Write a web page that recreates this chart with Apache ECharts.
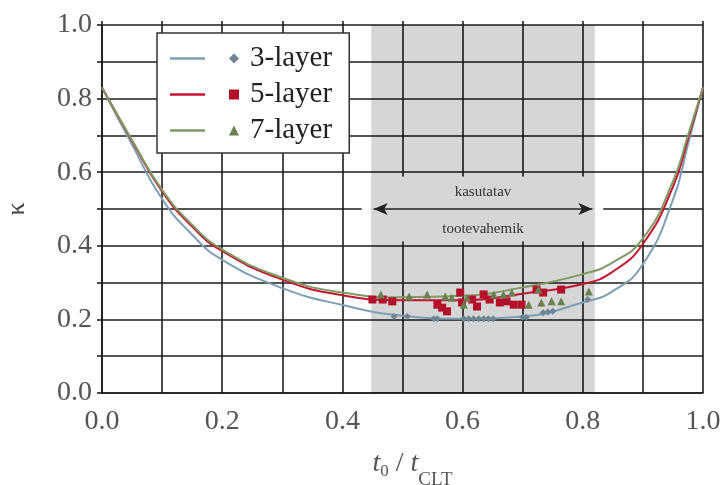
<!DOCTYPE html>
<html>
<head>
<meta charset="utf-8">
<script src="https://cdn.jsdelivr.net/npm/echarts@6/dist/echarts.min.js"></script>
<style>
  html, body { margin: 0; padding: 0; background: #fff; }
  #chart { width: 723px; height: 485px; }
</style>
</head>
<body>
<div id="chart"></div>
<script>
// Relative thickness t0 / tCLT where the curves are sampled
const ratioX = [0, 0.05, 0.1, 0.15, 0.2, 0.3, 0.4, 0.5, 0.6, 0.7, 0.8, 0.85, 0.9, 0.95, 0.975, 1.0];

// Composition factor kappa for each panel build-up
const kappa3 = [0.83, 0.675, 0.527, 0.43, 0.362, 0.285, 0.239, 0.21, 0.202, 0.208, 0.246, 0.277, 0.35, 0.525, 0.675, 0.83];
const kappa5 = [0.83, 0.685, 0.548, 0.452, 0.386, 0.308, 0.266, 0.252, 0.252, 0.27, 0.296, 0.33, 0.405, 0.56, 0.69, 0.83];
const kappa7 = [0.83, 0.687, 0.552, 0.457, 0.39, 0.313, 0.273, 0.26, 0.264, 0.287, 0.323, 0.355, 0.42, 0.575, 0.70, 0.83];

// Individual products (points)
const prod3X = [0.486, 0.508, 0.552, 0.558, 0.602, 0.61, 0.618, 0.627, 0.635, 0.643, 0.651, 0.70, 0.706, 0.734, 0.742, 0.75, 0.808];
const prod3Y = [0.208, 0.208, 0.202, 0.202, 0.202, 0.202, 0.202, 0.202, 0.202, 0.202, 0.202, 0.206, 0.206, 0.218, 0.22, 0.222, 0.254];
const prod5X = [0.45, 0.467, 0.483, 0.558, 0.566, 0.574, 0.596, 0.599, 0.616, 0.624, 0.635, 0.645, 0.662, 0.673, 0.685, 0.698, 0.723, 0.734, 0.764];
const prod5Y = [0.254, 0.254, 0.249, 0.24, 0.232, 0.222, 0.273, 0.246, 0.254, 0.235, 0.268, 0.254, 0.246, 0.249, 0.24, 0.24, 0.281, 0.273, 0.281];
const prod7X = [0.464, 0.511, 0.541, 0.571, 0.582, 0.602, 0.607, 0.652, 0.668, 0.682, 0.71, 0.726, 0.731, 0.748, 0.764, 0.81];
const prod7Y = [0.268, 0.262, 0.268, 0.262, 0.259, 0.24, 0.259, 0.268, 0.268, 0.273, 0.24, 0.281, 0.246, 0.249, 0.249, 0.276];

// Usable product range band, its caption panel and arrow
const usableRange = [0.448, 0.82];
const captionPanelY = [0.412, 0.588];
const usableArrowY = 0.5;
const bandCaptionTop = 'kasutatav';
const bandCaptionBottom = 'tootevahemik';
const captionY = [0.545, 0.445];

const seriesNames = ['3-layer', '5-layer', '7-layer'];
const tickLabels = ['0.0', '0.2', '0.4', '0.6', '0.8', '1.0'];

const serif = '"Liberation Serif", "DejaVu Serif", serif';
const gridColor = '#1c1c1c';
const bandGray = '#d6d6d6';
const lineColors = ['#7d9fb3', '#c4142f', '#7f9a63'];
const markColors = ['#6f8593', '#b3112a', '#6c7f50'];

const pairs = (xs, ys) => xs.map((x, i) => [x, ys[i]]);
const labelFor = v => {
  const k = Math.round(v * 10);
  return k % 2 === 0 ? tickLabels[k / 2] : '';
};
const bandMid = (usableRange[0] + usableRange[1]) / 2;

const lineSeries = (name, ys, color, z, extra) => Object.assign({
  name: name + ' curve',
  type: 'line',
  data: pairs(ratioX, ys),
  smooth: 0.5,
  showSymbol: false,
  lineStyle: { color: color, width: 2 },
  itemStyle: { color: color },
  z: z
}, extra || {});

const scatterSeries = (name, xs, ys, symbol, size, color) => ({
  name: name,
  type: 'scatter',
  data: pairs(xs, ys),
  symbol: symbol,
  symbolSize: size,
  itemStyle: { color: color, opacity: 1 },
  z: 6
});

const chart = echarts.init(document.getElementById('chart'));

const legendText = { fontFamily: serif, fontSize: 29, color: '#222' };
const gridLine = { color: gridColor, width: 1.6 };

chart.setOption({
  animation: false,
  backgroundColor: '#fff',
  grid: { left: 102, right: 20, top: 25, bottom: 92, outerBoundsMode: 'none' },
  xAxis: [{
    type: 'value', min: 0, max: 1, interval: 0.1,
    axisLine: { show: true, lineStyle: gridLine },
    axisTick: { show: false },
    splitLine: { show: true, lineStyle: gridLine },
    axisLabel: { formatter: labelFor, fontFamily: serif, fontSize: 28, color: '#555', margin: 15 },
    name: '{t|t}{z|0}{s| / }{t|t}{c|CLT}',
    nameLocation: 'middle',
    nameGap: 57,
    nameTextStyle: {
      padding: [0, 0, 0, 20],
      rich: {
        t: { fontFamily: serif, fontStyle: 'italic', fontSize: 28, color: '#555', verticalAlign: 'bottom', padding: [0, 0, 12, 0] },
        z: { fontFamily: serif, fontSize: 17, color: '#555', verticalAlign: 'bottom', padding: [0, 0, 10, 0] },
        s: { fontFamily: serif, fontSize: 28, color: '#555', verticalAlign: 'bottom', padding: [0, 0, 12, 0] },
        c: { fontFamily: serif, fontSize: 19, color: '#555', verticalAlign: 'bottom', padding: [0, 0, 0, 0] }
      }
    }
  }, {
    type: 'value', min: 0, max: 1, interval: 0.1, position: 'top',
    axisLine: { show: false },
    axisTick: { show: true, length: 4, lineStyle: gridLine },
    axisLabel: { show: false },
    splitLine: { show: false }
  }],
  yAxis: {
    type: 'value', min: 0, max: 1, interval: 0.1,
    axisLine: { show: true, lineStyle: gridLine },
    axisTick: { show: true, length: 5, lineStyle: gridLine },
    splitLine: { show: true, lineStyle: gridLine },
    axisLabel: { formatter: labelFor, fontFamily: serif, fontSize: 28, color: '#555', margin: 10 },
    name: 'κ',
    nameLocation: 'middle',
    nameGap: 72,
    nameRotate: 90,
    nameTextStyle: { fontFamily: serif, fontSize: 26, color: '#444' }
  },
  legend: [{
    // line samples, framed box
    data: seriesNames.map(n => ({ name: n + ' curve', icon: 'rect' })),
    formatter: () => ' ',
    orient: 'vertical',
    left: 157, top: 33,
    itemWidth: 35, itemHeight: 2.5,
    itemGap: 7,
    padding: [11, 132, 8, 13],
    backgroundColor: '#fff',
    borderColor: '#333', borderWidth: 1.5,
    textStyle: legendText,
    selectedMode: false,
    z: 7
  }, {
    // point symbols with names
    data: [
      { name: seriesNames[0], icon: 'diamond' },
      { name: seriesNames[1], icon: 'rect' },
      { name: seriesNames[2], icon: 'triangle' }
    ],
    orient: 'vertical',
    left: 224, top: 33,
    itemWidth: 10, itemHeight: 10,
    itemGap: 7,
    padding: [11, 5, 8, 5],
    textStyle: Object.assign({ padding: [0, 0, 0, 6] }, legendText),
    selectedMode: false,
    z: 8
  }],
  series: [
    lineSeries(seriesNames[0], kappa3, lineColors[0], 2, {
      markArea: {
        silent: true,
        itemStyle: { color: 'rgba(0,0,0,0.16)' },
        data: [[{ xAxis: usableRange[0] }, { xAxis: usableRange[1] }]]
      }
    }),
    lineSeries(seriesNames[1], kappa5, lineColors[1], 3, {
      markArea: {
        silent: true,
        itemStyle: { color: bandGray },
        data: [[{ coord: [usableRange[0], captionPanelY[0]] }, { coord: [usableRange[1], captionPanelY[1]] }]]
      }
    }),
    lineSeries(seriesNames[2], kappa7, lineColors[2], 4, {
      markLine: {
        silent: true,
        symbol: 'none',
        label: { show: false },
        lineStyle: { color: '#fff', width: 3, type: 'solid' },
        data: [
          [{ coord: [usableRange[0] - 0.016, usableArrowY] }, { coord: [usableRange[0], usableArrowY] }],
          [{ coord: [usableRange[1], usableArrowY] }, { coord: [usableRange[1] + 0.014, usableArrowY] }]
        ]
      }
    }),
    {
      // arrow and caption of the usable range
      type: 'line',
      data: [],
      z: 5,
      markLine: {
        silent: true,
        symbol: ['arrow', 'arrow'],
        symbolSize: [9, 14],
        label: { show: false },
        lineStyle: { color: '#222', width: 1.5, type: 'solid' },
        data: [[{ coord: [usableRange[0] + 0.004, usableArrowY] }, { coord: [usableRange[1] - 0.004, usableArrowY] }]]
      },
      markPoint: {
        silent: true,
        symbol: 'circle',
        symbolSize: 0,
        label: { show: true, position: 'inside', fontFamily: serif, fontSize: 15, color: '#333' },
        data: [
          { coord: [bandMid, captionY[0]], value: bandCaptionTop, label: { formatter: bandCaptionTop } },
          { coord: [bandMid, captionY[1]], value: bandCaptionBottom, label: { formatter: bandCaptionBottom } }
        ]
      }
    },
    scatterSeries(seriesNames[0], prod3X, prod3Y, 'diamond', 7, markColors[0]),
    scatterSeries(seriesNames[1], prod5X, prod5Y, 'rect', 8, markColors[1]),
    scatterSeries(seriesNames[2], prod7X, prod7Y, 'triangle', 8, markColors[2])
  ]
});
</script>
</body>
</html>
